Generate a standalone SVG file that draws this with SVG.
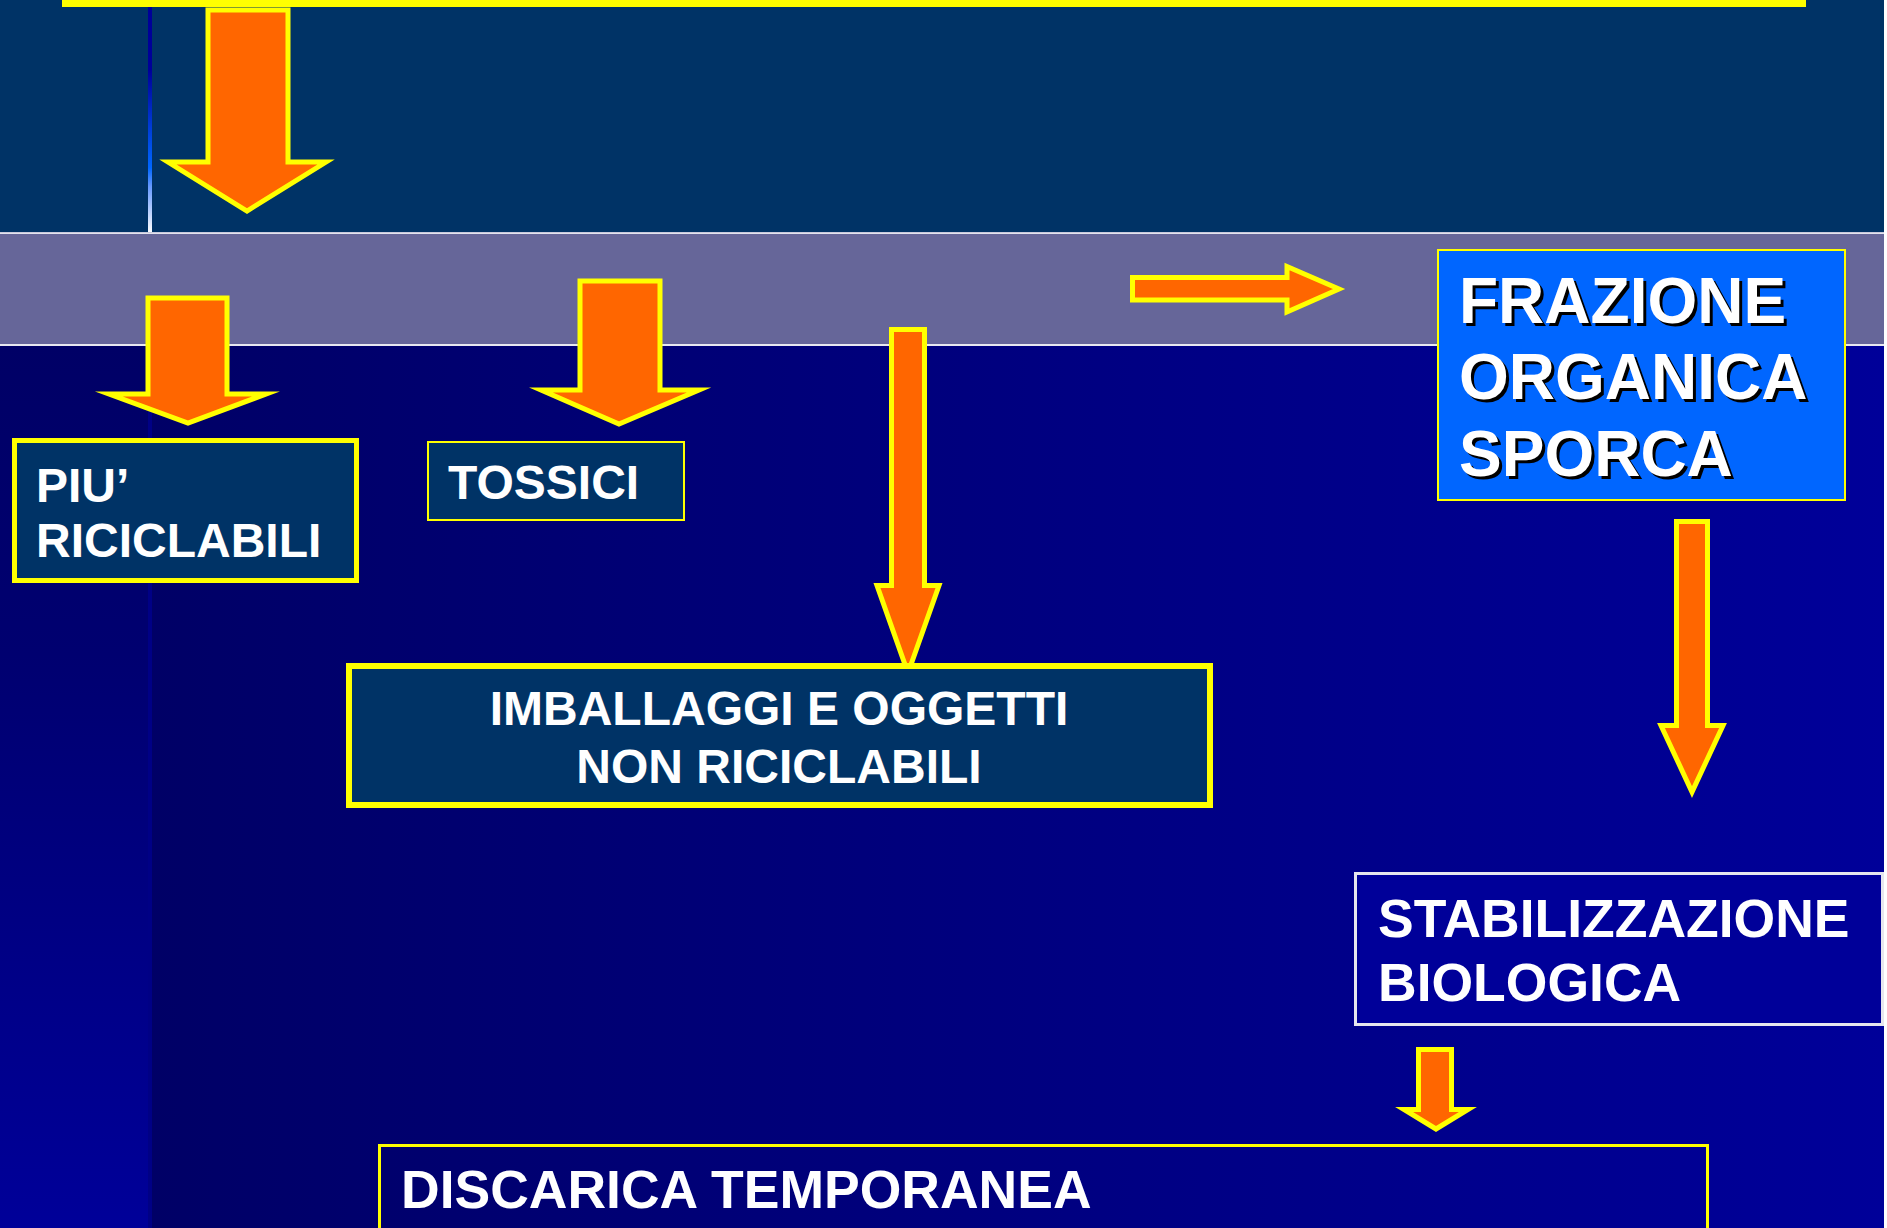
<svg xmlns="http://www.w3.org/2000/svg" width="1887" height="1228" viewBox="0 0 1887 1228">
<defs>
<style>
.t{font-family:"Liberation Sans",Arial,sans-serif;font-weight:bold;fill:#FFFFFF;}
.arr{fill:#FF6600;stroke:#FFFF00;stroke-width:5;stroke-linejoin:miter;stroke-miterlimit:10;}
.box{fill:#003366;stroke:#FFFF00;}
.sh{font-family:"Liberation Sans",Arial,sans-serif;font-weight:bold;fill:#000000;}
</style>
<linearGradient id="gMain" x1="0" y1="0" x2="1" y2="0">
<stop offset="0" stop-color="#000066"/>
<stop offset="1" stop-color="#000099"/>
</linearGradient>
<linearGradient id="gLeft" x1="0" y1="0" x2="0" y2="1">
<stop offset="0" stop-color="#000066"/>
<stop offset="0.35" stop-color="#000070"/>
<stop offset="1" stop-color="#000099"/>
</linearGradient>
<linearGradient id="gLine" x1="0" y1="0" x2="0" y2="1">
<stop offset="0" stop-color="#000099"/>
<stop offset="0.3" stop-color="#000099"/>
<stop offset="0.72" stop-color="#0066FF"/>
<stop offset="0.8" stop-color="#6699FF"/>
<stop offset="1" stop-color="#FFFFFF"/>
</linearGradient>
</defs>

<g id="background">
<rect x="0" y="0" width="1887" height="1228" fill="#FFFFFF"/>
<rect x="0" y="0" width="1884" height="233" fill="#003366"/>
<rect x="148" y="0" width="4" height="233" fill="url(#gLine)"/>
<rect x="0" y="234" width="1884" height="111" fill="#666699"/>
<rect x="0" y="232" width="1884" height="1.5" fill="#C8C8DC"/>
<rect x="0" y="346" width="148" height="882" fill="url(#gLeft)"/>
<rect x="148" y="346" width="1736" height="882" fill="url(#gMain)"/>
<rect x="148" y="346" width="4" height="882" fill="#000099" opacity="0.6"/>
<rect x="0" y="344" width="1884" height="2" fill="#E8E8F0"/>
<rect x="62" y="0" width="1744" height="7" fill="#FFFF00"/>
</g>

<g id="connectors">
<polygon class="arr" points="208,10 288,10 288,162 326,162 247,211 168,162 208,162"/>
<polygon class="arr" points="148,298 227,298 227,394 266,394 188,423 109,394 148,394"/>
<polygon class="arr" points="580,281 660,281 660,390 699,390 619,424 541,390 580,390"/>
<polygon class="arr" points="891.5,329.5 924.5,329.5 924.5,585.5 939,585.5 908,673 877,585.5 891.5,585.5"/>
<polygon class="arr" points="1132.5,277.5 1287,277.5 1287,266.5 1339,289 1287,312 1287,300 1132.5,300"/>
<polygon class="arr" points="1676.5,521.5 1707.5,521.5 1707.5,725.5 1723,725.5 1692,792 1661,725.5 1676.5,725.5"/>
<polygon class="arr" points="1418.5,1049.5 1451.5,1049.5 1451.5,1109.5 1468,1109.5 1436,1129 1404,1109.5 1418.5,1109.5"/>
</g>

<g id="node-piu">
<rect class="box" x="14.5" y="440.5" width="342" height="140" stroke-width="5"/>
<text class="t" x="36" y="502" font-size="48">PIU’</text>
<text class="t" x="36" y="557" font-size="48">RICICLABILI</text>
</g>

<g id="node-tossici">
<rect class="box" x="428" y="442" width="256" height="78" stroke-width="2"/>
<text class="t" x="448" y="499" font-size="48">TOSSICI</text>
</g>

<g id="node-imballaggi">
<rect class="box" x="349" y="666" width="861" height="139" stroke-width="6"/>
<text class="t" x="779" y="725" font-size="48" text-anchor="middle">IMBALLAGGI E OGGETTI</text>
<text class="t" x="779" y="783" font-size="48" text-anchor="middle">NON RICICLABILI</text>
</g>

<g id="node-frazione">
<rect x="1438" y="250" width="407" height="250" fill="#0066FF" stroke="#FFFF00" stroke-width="2"/>
<text class="sh" x="1462" y="326" font-size="64">FRAZIONE</text>
<text class="sh" x="1462" y="402" font-size="64">ORGANICA</text>
<text class="sh" x="1462" y="479" font-size="64">SPORCA</text>
<text class="t" x="1459" y="323" font-size="64">FRAZIONE</text>
<text class="t" x="1459" y="399" font-size="64">ORGANICA</text>
<text class="t" x="1459" y="476" font-size="64">SPORCA</text>
</g>

<g id="node-stabilizzazione">
<rect x="1355.5" y="873.5" width="527" height="151" fill="#000099" stroke="#E6E6EE" stroke-width="3"/>
<text class="t" x="1378" y="937" font-size="53.5">STABILIZZAZIONE</text>
<text class="t" x="1378" y="1001" font-size="53.5">BIOLOGICA</text>
</g>

<g id="node-discarica">
<rect x="379.5" y="1145.5" width="1328" height="200" fill="none" stroke="#FFFF00" stroke-width="3"/>
<text class="t" x="401" y="1208" font-size="53.5">DISCARICA TEMPORANEA</text>
</g>
</svg>
